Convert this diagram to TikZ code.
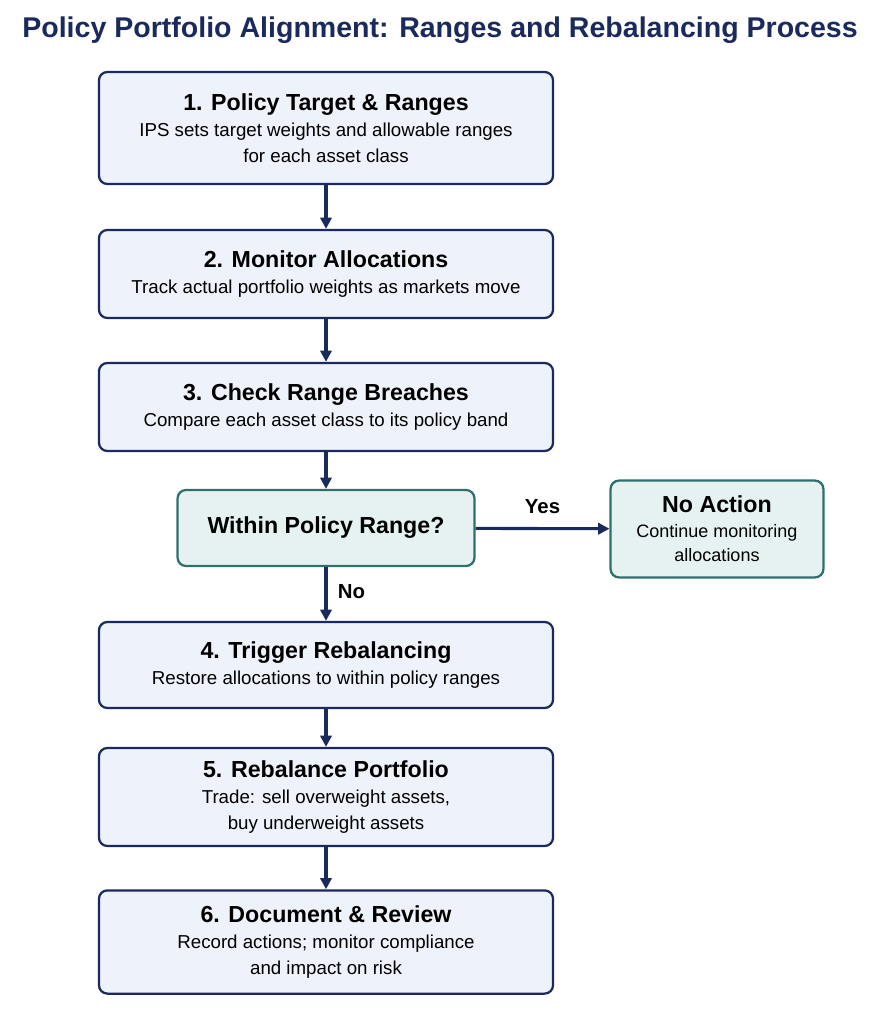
\documentclass[tikz,border=0pt]{standalone}
\usepackage{fontspec}
\setmainfont{Liberation Sans}
\usetikzlibrary{arrows.meta}
\definecolor{navy}{HTML}{1B2A5C}
\definecolor{boxfill}{HTML}{EEF2FA}
\definecolor{teal}{HTML}{2F6F6C}
\definecolor{tealfill}{HTML}{E6F2F2}
\begin{document}
\begin{tikzpicture}[x=0.025cm,y=-0.025cm,
  stepbox/.style={draw=navy,line width=1.6pt,fill=boxfill,rounded corners=6pt,align=center,font=\fontsize{13.3}{18.5}\selectfont},
  check/.style={draw=teal,line width=1.6pt,fill=tealfill,rounded corners=6pt,align=center,font=\fontsize{12.8}{17.5}\selectfont},
  flow/.style={-{Triangle[length=8pt,width=8pt]},draw=navy,line width=2.2pt},
  lbl/.style={font=\fontsize{14.5}{16}\selectfont\bfseries},
  head/.style={font=\fontsize{16.5}{21}\selectfont\bfseries}]
\useasboundingbox (0,0) rectangle (881,1012);
\node[font=\fontsize{20.3}{22}\selectfont\bfseries,text=navy] (title) at (440,30) {Policy Portfolio Alignment: Ranges and Rebalancing Process};
\node[stepbox,minimum width=11.35cm,minimum height=2.8cm] (b1) at (326,128) {{\fontsize{16.5}{21}\selectfont\bfseries 1. Policy Target \& Ranges}\\IPS sets target weights and allowable ranges\\for each asset class};
\node[stepbox,minimum width=11.35cm,minimum height=2.2cm] (b2) at (326,274) {{\fontsize{16.5}{21}\selectfont\bfseries 2. Monitor Allocations}\\Track actual portfolio weights as markets move};
\node[stepbox,minimum width=11.35cm,minimum height=2.2cm] (b3) at (326,407) {{\fontsize{16.5}{21}\selectfont\bfseries 3. Check Range Breaches}\\Compare each asset class to its policy band};
\node[check,minimum width=7.42cm,minimum height=1.9cm,font=\fontsize{16.5}{21}\selectfont\bfseries] (q) at (326,528) {Within Policy Range?};
\node[check,minimum width=5.32cm,minimum height=2.42cm] (na) at (717,529) {{\fontsize{16.5}{21}\selectfont\bfseries No Action}\\Continue monitoring\\allocations};
\node[stepbox,minimum width=11.35cm,minimum height=2.15cm] (b4) at (326,665) {{\fontsize{16.5}{21}\selectfont\bfseries 4. Trigger Rebalancing}\\Restore allocations to within policy ranges};
\node[stepbox,minimum width=11.35cm,minimum height=2.45cm] (b5) at (326,797) {{\fontsize{16.5}{21}\selectfont\bfseries 5. Rebalance Portfolio}\\Trade: sell overweight assets,\\buy underweight assets};
\node[stepbox,minimum width=11.35cm,minimum height=2.58cm] (b6) at (326,942) {{\fontsize{16.5}{21}\selectfont\bfseries 6. Document \& Review}\\Record actions; monitor compliance\\and impact on risk};
\draw[flow] (b1) -- (b2);
\draw[flow] (b2) -- (b3);
\draw[flow] (b3) -- (q);
\draw[flow] (q) -- node[lbl,right=4pt,pos=0.45] {No} (b4);
\draw[flow] (q) -- node[lbl,above=6pt] {Yes} (na);
\draw[flow] (b4) -- (b5);
\draw[flow] (b5) -- (b6);
\end{tikzpicture}
\end{document}
